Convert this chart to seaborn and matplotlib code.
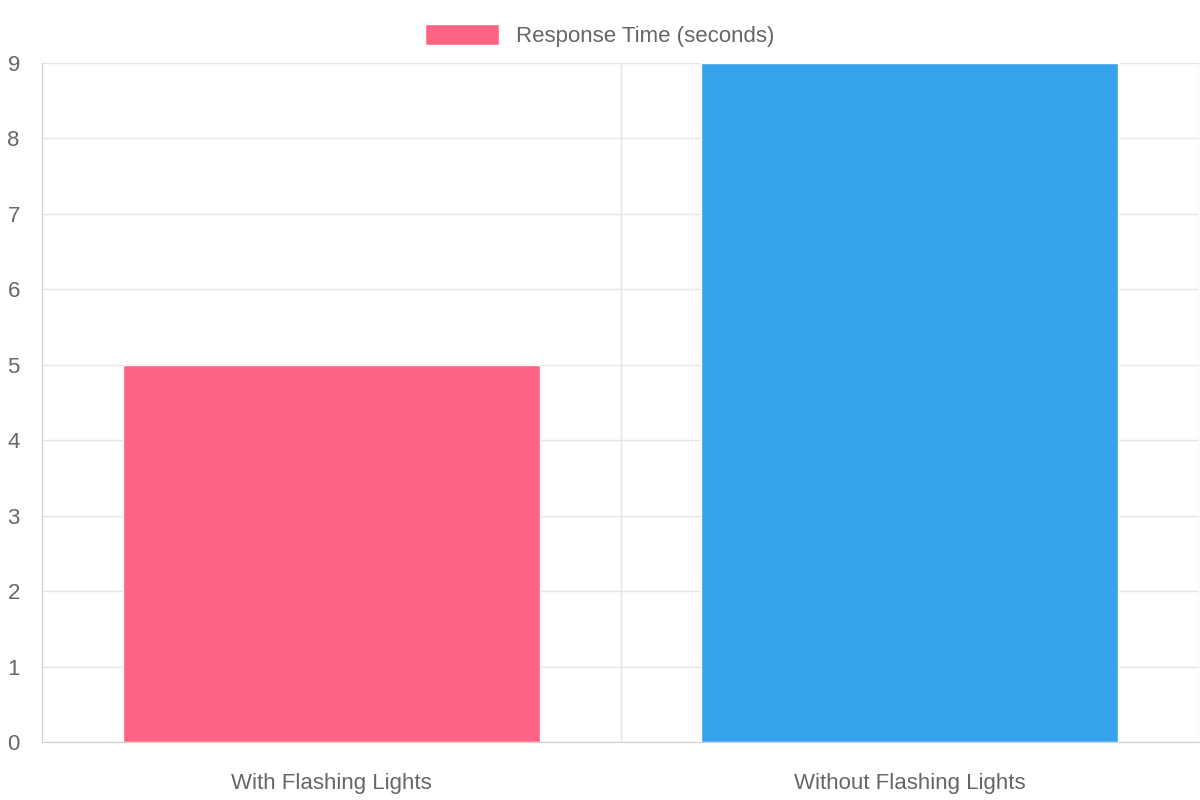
import matplotlib
matplotlib.use("Agg")
import matplotlib.pyplot as plt
import seaborn as sns
import pandas as pd
from matplotlib.patches import Patch

categories = ["With Flashing Lights", "Without Flashing Lights"]
values = [5, 9]
colors = ["#FF6384", "#36A2EB"]
series_label = "Response Time (seconds)"

sns.set_style("white")
plt.rcParams['font.family'] = ['Liberation Sans', 'DejaVu Sans']

fig = plt.figure(figsize=(12, 8), dpi=100)
ax = fig.add_axes([42/1200, 1-742/800, (1199-42)/1200, (742-63)/800])
df = pd.DataFrame({"cat": categories, "val": values})
sns.barplot(data=df, x="cat", y="val", hue="cat", palette=colors, width=0.72,
            saturation=1, ax=ax, legend=False)
ax.set_xlim(-0.5, 1.5)
ax.set_ylim(0, 9)
ax.set_yticks(range(10))
ax.set_xlabel("")
ax.set_ylabel("")
grid = "#e5e5e5"
ax.yaxis.grid(True, color=grid, lw=1)
ax.set_xticks([-0.5, 0.5, 1.5], minor=True)
ax.xaxis.grid(True, which="minor", color=grid, lw=1)
ax.set_axisbelow(True)
for s in ["top", "right"]:
    ax.spines[s].set_visible(False)
for s in ["left", "bottom"]:
    ax.spines[s].set_color("#d0d0d0")
ax.tick_params(axis="y", length=12, color=grid, labelsize=16, labelcolor="#666666", pad=4)
ax.tick_params(axis="x", which="major", length=0, labelsize=16, labelcolor="#666666", pad=22)
ax.tick_params(axis="x", which="minor", length=16, color=grid)
fig.legend(handles=[Patch(facecolor=colors[0], label=series_label)],
           loc="upper center", bbox_to_anchor=(0.5, 0.995), frameon=False,
           fontsize=16, labelcolor="#666666", handlelength=3.3, handleheight=1.1)
fig.savefig("out.png", dpi=100)
